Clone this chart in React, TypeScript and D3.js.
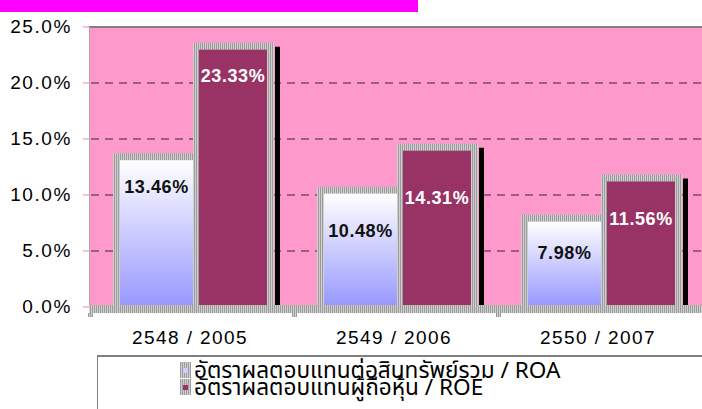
import React from "react";
import * as d3 from "d3";

const categories = ["2548 / 2005", "2549 / 2006", "2550 / 2007"];
const roaValues = [13.46, 10.48, 7.98];
const roeValues = [23.33, 14.31, 11.56];
const yTicks = [0, 5, 10, 15, 20, 25];
const seriesNames = [
  "อัตราผลตอบแทนต่อสินทรัพย์รวม / ROA",
  "อัตราผลตอบแทนผู้ถือหุ้น / ROE",
];

// label placement nudges (layout, px below bar top)
const roaLabelDy = [37, 47, 41];
const roeLabelDy = [36, 57, 47];

const W = 702;
const H = 409;
const FONT = "'Liberation Sans', Arimo, sans-serif";
const THAI_FONT = "Tahoma, 'Noto Sans Thai', Loma, Garuda, 'Liberation Sans', sans-serif";

export default function App() {
  const plotLeft = 89;
  const plotRight = 702;
  const plotTop = 27;
  const floorTop = 305;

  const x = d3.scaleBand<string>().domain(categories).range([plotLeft, 701]);
  const inner = d3.scaleBand<string>().domain(["roa", "roe"]).range([24, 184]);
  const y = d3.scaleLinear().domain([0, 25]).range([307, 27]);
  const bw = inner.bandwidth();
  const fmt = d3.format(".1f");
  const fmt2 = d3.format(".2f");

  return (
    <svg
      width={W}
      height={H}
      style={{ position: "absolute", left: 0, top: 0, background: "#fff" }}
    >
      <defs>
        <pattern id="hatch" width="2" height="4" patternUnits="userSpaceOnUse">
          <rect width="2" height="4" fill="#cfcfcf" />
          <rect width="1" height="4" fill="#9c9c9c" />
        </pattern>
        <linearGradient id="roaGrad" x1="0" y1="0" x2="0" y2="1">
          <stop offset="0" stopColor="#ffffff" />
          <stop offset="1" stopColor="#9999ff" />
        </linearGradient>
      </defs>

      {/* top magenta bar */}
      <rect x={0} y={0} width={418} height={12} fill="#ff00ff" />

      {/* plot background */}
      <rect
        x={plotLeft}
        y={plotTop}
        width={plotRight - plotLeft}
        height={floorTop - plotTop}
        fill="#ff99cc"
      />
      <line x1={plotLeft} x2={plotRight} y1={plotTop} y2={plotTop} stroke="#808080" strokeWidth={2} />
      <line x1={plotLeft + 0.5} x2={plotLeft + 0.5} y1={plotTop} y2={floorTop} stroke="#b8a0ac" strokeWidth={1} />

      {/* gridlines */}
      {yTicks
        .filter((t) => t > 0 && t < 25)
        .map((t) => (
          <line
            key={"g" + t}
            x1={plotLeft + 2}
            x2={plotRight}
            y1={y(t)}
            y2={y(t)}
            stroke="#7a4f66"
            strokeWidth={1.5}
            strokeDasharray="8,6"
          />
        ))}

      {/* y ticks and labels */}
      {yTicks.map((t) => (
        <g key={"t" + t}>
          <line x1={83} x2={plotLeft} y1={y(t)} y2={y(t)} stroke="#f4a6cc" strokeWidth={1.5} />
          <text
            x={72}
            y={y(t) - 1}
            textAnchor="end"
            dominantBaseline="central"
            fontFamily={FONT}
            fontSize={19}
            letterSpacing={1.6}
            fill="#000"
          >
            {fmt(t) + "%"}
          </text>
        </g>
      ))}

      {/* bars */}
      {categories.map((c, i) => {
        const b = x(c) as number;
        const xa = b + (inner("roa") as number);
        const xe = b + (inner("roe") as number);
        const ya = y(roaValues[i]);
        const ye = y(roeValues[i]);
        return (
          <g key={c}>
            <rect x={xa} y={ya - 3} width={bw} height={floorTop - ya + 3} fill="url(#hatch)" />
            <rect x={xa + 7} y={ya + 4} width={bw - 7} height={floorTop - ya - 4} fill="url(#roaGrad)" />
            <rect x={xe} y={ye - 3} width={bw + 1} height={floorTop - ye + 3} fill="url(#hatch)" />
            <rect x={xe + 6} y={ye + 4} width={bw - 12} height={floorTop - ye - 4} fill="#993366" />
            <rect x={xe + bw + 2} y={ye + 1} width={5} height={floorTop - ye - 1} fill="#000" />
            <text
              x={xa + 7 + (bw - 7) / 2}
              y={ya + roaLabelDy[i]}
              textAnchor="middle"
              fontFamily={FONT}
              fontWeight="bold"
              fontSize={18}
              letterSpacing={0.6}
              fill="#111"
            >
              {fmt2(roaValues[i]) + "%"}
            </text>
            <text
              x={xe + 6 + (bw - 12) / 2}
              y={ye + roeLabelDy[i]}
              textAnchor="middle"
              fontFamily={FONT}
              fontWeight="bold"
              fontSize={18}
              letterSpacing={0.6}
              fill="#fff"
            >
              {fmt2(roeValues[i]) + "%"}
            </text>
          </g>
        );
      })}

      {/* floor */}
      <rect x={plotLeft} y={floorTop} width={plotRight - plotLeft} height={8} fill="url(#hatch)" />
      {categories.map((c) => (
        <rect key={"ft" + c} x={(x(c) as number) - 1} y={floorTop + 8} width={5} height={4} fill="url(#hatch)" />
      ))}

      {/* category labels */}
      {categories.map((c) => (
        <text
          key={"cl" + c}
          x={(x(c) as number) + x.bandwidth() / 2 - 1}
          y={344}
          textAnchor="middle"
          fontFamily={FONT}
          fontSize={19}
          letterSpacing={1.4}
          fill="#000"
        >
          {c}
        </text>
      ))}

      {/* legend */}
      <line x1={97} x2={W} y1={356} y2={356} stroke="#808080" strokeWidth={2} />
      <line x1={97.5} x2={97.5} y1={356} y2={H} stroke="#808080" strokeWidth={1} />
      {seriesNames.map((s, i) => (
        <g key={s}>
          <rect x={180} y={362 + i * 17} width={11} height={16} fill="url(#hatch)" />
          <rect
            x={183}
            y={368 + i * 17}
            width={5}
            height={5}
            fill={i === 0 ? "#ccccff" : "#993366"}
          />
          <text
            x={194}
            y={378 + i * 17}
            fontFamily={THAI_FONT}
            fontSize={22.6}
            fill="#000"
          >
            {s}
          </text>
        </g>
      ))}
    </svg>
  );
}
